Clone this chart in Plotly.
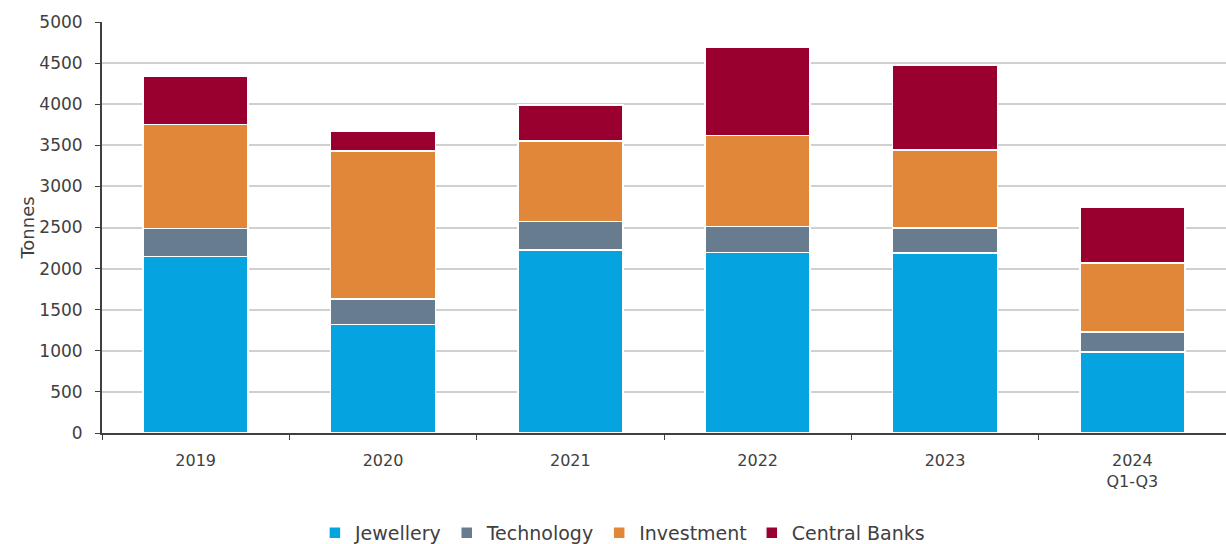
import plotly.graph_objects as go

# Gold demand by sector, tonnes
years = ["2019", "2020", "2021", "2022", "2023", "2024<br>Q1-Q3"]
jewellery = [2150, 1318, 2227, 2195, 2191, 985]
technology = [335, 312, 344, 315, 304, 243]
investment = [1268, 1803, 982, 1109, 947, 838]
central_banks = [585, 232, 439, 1069, 1032, 676]

series = [
    ("Jewellery", jewellery, "#05A4E1"),
    ("Technology", technology, "#687C90"),
    ("Investment", investment, "#E0873A"),
    ("Central Banks", central_banks, "#990030"),
]

fig = go.Figure()
for name, vals, col in series:
    fig.add_trace(go.Bar(
        x=years,
        y=vals,
        name=name,
        marker=dict(color=col, line=dict(color="white", width=1.5))
    ))

fig.update_layout(
    barmode="stack",
    bargap=0.44,
    width=1226,
    height=544,
    plot_bgcolor="white",
    paper_bgcolor="white",
    font=dict(family="DejaVu Sans", size=16, color="#404040"),
    margin=dict(l=102, r=0, t=22, b=111, autoexpand=False),
    xaxis=dict(
        showline=True,
        linecolor="#404040",
        linewidth=2,
        ticks="outside",
        tickson="boundaries",
        ticklen=5,
        tickcolor="#404040",
        showgrid=False,
        tickfont=dict(size=16),
        ticklabelstandoff=12,
    ),
    yaxis=dict(
        title=dict(text="Tonnes", standoff=0, font=dict(size=18)),
        range=[0, 5000],
        dtick=500,
        showline=True,
        linecolor="#404040",
        linewidth=2,
        ticks="outside",
        ticklen=5,
        tickcolor="#404040",
        gridcolor="#D0D0D0",
        gridwidth=1.5,
        tickfont=dict(size=17),
        ticklabelstandoff=9,
    ),
    legend=dict(
        orientation="h",
        x=0.463,
        xanchor="center",
        y=-0.243,
        yanchor="middle",
        font=dict(size=19),
        traceorder="normal",
        itemwidth=30,
    ),
    showlegend=True,
)

# drop the default page margin so the figure sits at the window origin
fig.write_html(
    "out.html",
    config={"displayModeBar": False},
    post_script="document.body.style.margin='0';document.body.style.overflow='hidden';",
)
